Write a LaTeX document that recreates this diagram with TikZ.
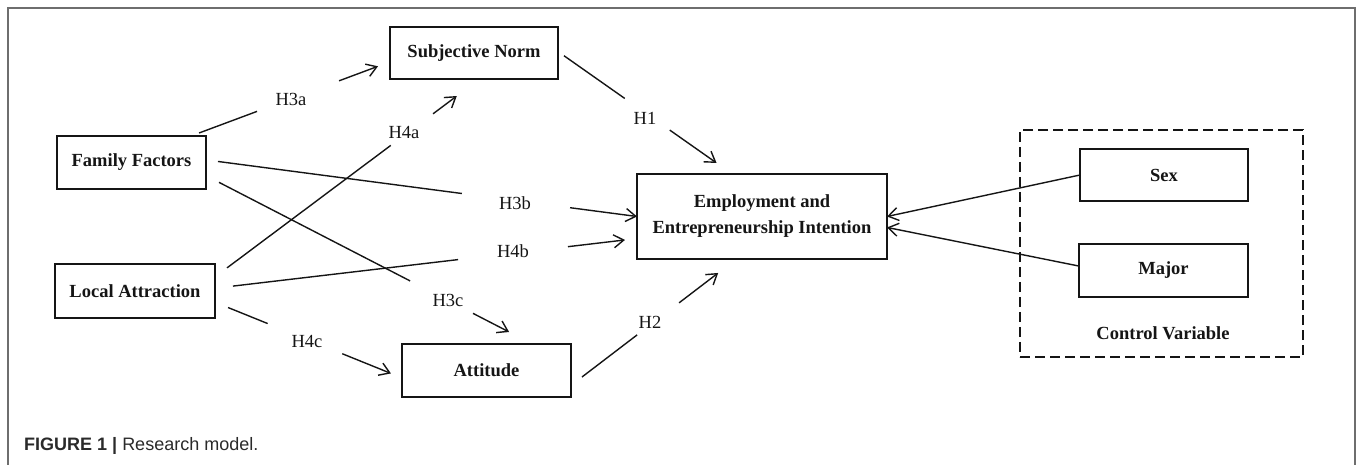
\documentclass[tikz,border=0pt]{standalone}
\usepackage{fontspec}
\setmainfont{Liberation Serif}
\newfontfamily\capfont{Liberation Sans}
\usetikzlibrary{arrows.meta}
\definecolor{framecol}{HTML}{6E6E6E}
\definecolor{inkcol}{HTML}{151515}
\definecolor{capcol}{HTML}{2A2A2A}
\begin{document}
\begin{tikzpicture}[x=1bp,y=-1bp,
  box/.style={draw=inkcol, line width=1.4bp, inner sep=0pt, outer sep=0pt, align=center,
    font=\fontsize{18.5bp}{26bp}\selectfont\bfseries, text=inkcol},
  ctrlbox/.style={draw=inkcol, line width=1.4bp, dash pattern=on 10bp off 5bp, inner sep=0pt, outer sep=0pt},
  lbl/.style={font=\fontsize{18.5bp}{22bp}\selectfont, text=inkcol, inner sep=0pt},
  conn/.style={draw=inkcol, line width=1.4bp},
  arr/.style={conn, -{Straight Barb[length=10bp,width=13bp]}},
  caption/.style={font=\capfont\fontsize{18bp}{22bp}\selectfont, text=capcol, inner sep=0pt, anchor=west}]
\useasboundingbox (0,0) rectangle (1357,465);
\draw[framecol, line width=1.2bp] (8,465) -- (8,8) -- (1355,8) -- (1355,465);

% boxes
\node[box, minimum width=149bp, minimum height=53bp] (ff) at (131.5,162.5) {Family Factors};
\node[box, minimum width=160bp, minimum height=54bp] (la) at (135,291) {Local Attraction};
\node[box, minimum width=168bp, minimum height=52bp] (sn) at (474,53) {Subjective Norm};
\node[box, minimum width=169bp, minimum height=53bp] (att) at (486.5,370.5) {Attitude};
\node[box, minimum width=250bp, minimum height=85bp] (eei) at (762,216.5) {Employment and\\Entrepreneurship Intention};
\node[ctrlbox, minimum width=283bp, minimum height=227bp] (ctrl) at (1161.5,243.5) {};
\node[box, minimum width=168bp, minimum height=52bp] (sex) at (1164,175) {Sex};
\node[box, minimum width=169bp, minimum height=53bp] (maj) at (1163.5,270.5) {Major};
\node[box, draw=none] (ctrlt) at (1163,333) {Control Variable};

% labels
\node[lbl] (h3a) at (291,99) {H3a};
\node[lbl] (h4a) at (404,133) {H4a};
\node[lbl] (h3b) at (515,203) {H3b};
\node[lbl] (h4b) at (513,251) {H4b};
\node[lbl] (h3c) at (448,300) {H3c};
\node[lbl] (h4c) at (307,342) {H4c};
\node[lbl] (h1) at (645,118) {H1};
\node[lbl] (h2) at (650,322) {H2};

% connectors (each drawn as two pieces around its label)
\draw[conn, shorten <=8.6bp, shorten >=141.9bp] (ff.24) -- (sn.186);
\draw[arr, shorten <=158bp, shorten >=12.8bp] (ff.24) -- (sn.186);

\draw[conn, shorten <=15bp, shorten >=110.8bp] (la.10) -- (sn.282);
\draw[arr, shorten <=272.3bp, shorten >=28.4bp] (la.10) -- (sn.282);

\draw[conn, shorten <=12.1bp, shorten >=176.6bp] (ff.2) -- (eei.180);
\draw[arr, shorten <=367.2bp, shorten >=0bp] (ff.2) -- (eei.180);

\draw[conn, shorten <=14.6bp, shorten >=137.6bp] (ff.350) -- (att.30);
\draw[arr, shorten <=300.4bp, shorten >=26.2bp] (ff.350) -- (att.30);

\draw[conn, shorten <=18.1bp, shorten >=180.2bp] (la.2) -- (eei.190);
\draw[arr, shorten <=355.4bp, shorten >=12.1bp] (la.2) -- (eei.190);

\draw[conn, shorten <=14.1bp, shorten >=144.9bp] (la.352) -- (att.185);
\draw[arr, shorten <=137.3bp, shorten >=11.9bp] (la.352) -- (att.185);

\draw[conn, shorten <=7.3bp, shorten >=131.4bp] (sn.1) -- (eei.125);
\draw[arr, shorten <=136.6bp, shorten >=19.2bp] (sn.1) -- (eei.125);

\draw[conn, shorten <=13.8bp, shorten >=125bp] (att.350) -- (eei.239);
\draw[arr, shorten <=136bp, shorten >=23bp] (att.350) -- (eei.239);

\draw[arr] (sex.west) -- (eei.east);
\draw[arr] (maj.177) -- (eei.355);

% caption
\node[caption] (cap) at (24,446) {\textbf{FIGURE 1 |} Research model.};
\end{tikzpicture}
\end{document}
